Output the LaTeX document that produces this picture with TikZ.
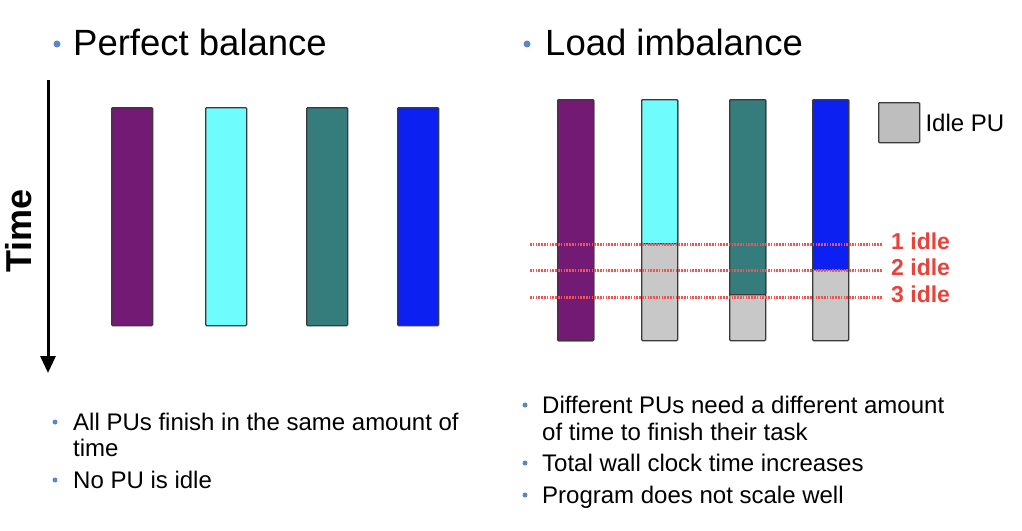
\documentclass[tikz,border=0pt]{standalone}
\usepackage{fontspec}
\setmainfont{Liberation Sans}
\usetikzlibrary{arrows.meta,positioning,calc}
\definecolor{pupurple}{HTML}{731A74}
\definecolor{pucyan}{HTML}{6EFCFC}
\definecolor{puteal}{HTML}{357C7C}
\definecolor{publue}{HTML}{0D20F2}
\definecolor{idlegray}{HTML}{C8C8C8}
\definecolor{barborder}{HTML}{3A3A3A}
\definecolor{idlered}{HTML}{F25454}
\definecolor{labelred}{HTML}{E8433A}
\definecolor{bulletblue}{HTML}{5B87C5}

\begin{document}
\begin{tikzpicture}[
  x=1pt, y=-1pt,
  % --- Styles ---
  bar/.style={draw=barborder, line width=1.3pt, rounded corners=1pt,
    anchor=north west, inner sep=0pt},
  title/.style={font=\fontsize{36.5}{40}\selectfont, anchor=base west, inner sep=0pt},
  itemtext/.style={font=\fontsize{24}{28}\selectfont, anchor=base west, inner sep=0pt},
  dot/.style={circle, fill=bulletblue, inner sep=0pt, minimum size=#1},
  timearrow/.style={-{Triangle[length=17pt,width=15pt]}, line width=3pt},
  idleline/.style={draw=idlered, line width=3pt, dash pattern=on 1.5pt off 1.3pt},
  idlelabel/.style={font=\fontsize{23}{26}\selectfont\bfseries, text=labelred,
    anchor=base west, inner sep=0pt}
]
\useasboundingbox (0,0) rectangle (1022,530);

% ---- Titles ----
\node[title] (tleft) at (73,55) {Perfect balance};
\node[title] (tright) at (545,55) {Load imbalance};
\node[dot=7] (btleft) at ($(tleft.base west)+(-16,-11)$) {};
\node[dot=7] (btright) at ($(tright.base west)+(-18,-11)$) {};

% ---- Time axis ----
\coordinate (tstart) at (48,80);
\coordinate (tend) at (48,373);
\draw[timearrow] (tstart) -- (tend);
\node[rotate=90, font=\fontsize{36}{40}\selectfont\bfseries, inner sep=0pt] (time) at (19,231) {Time};

% ---- Perfect balance bars ----
\foreach \x/\c [count=\i] in {111/pupurple,205/pucyan,306/puteal,397/publue}
  \node[bar, fill=\c, minimum width=41pt, minimum height=218pt] (bal\i) at (\x,107) {};

% ---- Load imbalance bars ----
\foreach \x/\c/\h [count=\i] in {557/pupurple/241,641/pucyan/144,729/puteal/195,812/publue/170}{
  \node[bar, fill=idlegray, minimum width=36pt, minimum height=241pt] (idle\i) at (\x,99) {};
  \node[bar, fill=\c, minimum width=36pt, minimum height=\h pt] (busy\i) at (\x,99) {};
}

% ---- Legend ----
\node[bar, fill=idlegray!95!black, minimum width=41pt, minimum height=40pt] (legend) at (878,102) {};
\node[itemtext, anchor=west, right=5pt of legend] (legendtext) {Idle PU};

% ---- Idle levels ----
\foreach \y/\n in {244/1,270/2,297/3}{
  \coordinate (ls\n) at (530,\y);
  \coordinate (le\n) at (882,\y);
  \draw[idleline] (ls\n) -- (le\n);
  \node[idlelabel] (idl\n) at (891,\y+5.5) {\n\ idle};
}

% ---- Left notes ----
\node[itemtext] (la) at (73,430) {All PUs finish in the same amount of};
\node[itemtext] (lb) at (73,456) {time};
\node[itemtext] (lc) at (73,488) {No PU is idle};
\node[dot=5] (bla) at ($(la.base west)+(-18,-8)$) {};
\node[dot=5] (blc) at ($(lc.base west)+(-18,-8)$) {};

% ---- Right notes ----
\node[itemtext] (ra) at (542,413) {Different PUs need a different amount};
\node[itemtext] (rb) at (542,440) {of time to finish their task};
\node[itemtext] (rc) at (542,471) {Total wall clock time increases};
\node[itemtext] (rd) at (542,503) {Program does not scale well};
\node[dot=5] (bra) at ($(ra.base west)+(-17,-8)$) {};
\node[dot=5] (brc) at ($(rc.base west)+(-17,-8)$) {};
\node[dot=5] (brd) at ($(rd.base west)+(-17,-8)$) {};

\end{tikzpicture}
\end{document}
